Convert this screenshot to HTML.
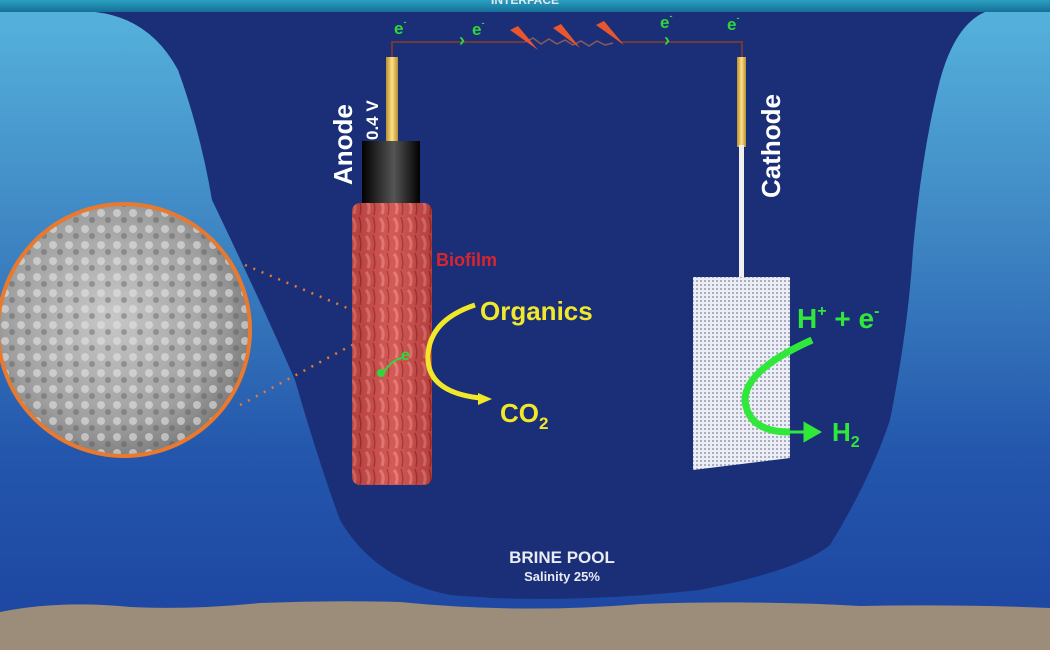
<!DOCTYPE html>
<html><head><meta charset="utf-8"><style>
html,body{margin:0;padding:0;width:1050px;height:650px;overflow:hidden;background:#1d4aa0}
svg{display:block}
text{font-family:"Liberation Sans",sans-serif;font-weight:bold}
</style></head><body>
<svg width="1050" height="650" viewBox="0 0 1050 650" xmlns="http://www.w3.org/2000/svg">
<defs>
<linearGradient id="sea" x1="0" y1="0" x2="0" y2="1">
<stop offset="0" stop-color="#56b4dd"/><stop offset="0.35" stop-color="#3f87c4"/><stop offset="0.7" stop-color="#2356ac"/><stop offset="1" stop-color="#1d44a0"/>
</linearGradient>
<linearGradient id="top" x1="0" y1="0" x2="0" y2="1"><stop offset="0" stop-color="#2aa0c0"/><stop offset="1" stop-color="#166f98"/></linearGradient>
<linearGradient id="gold" x1="0" y1="0" x2="1" y2="0"><stop offset="0" stop-color="#b8902a"/><stop offset="0.5" stop-color="#ffe08a"/><stop offset="1" stop-color="#b8902a"/></linearGradient>
<linearGradient id="blk" x1="0" y1="0" x2="1" y2="0"><stop offset="0" stop-color="#000"/><stop offset="0.55" stop-color="#555"/><stop offset="1" stop-color="#000"/></linearGradient>
<linearGradient id="red" x1="0" y1="0" x2="1" y2="0"><stop offset="0" stop-color="#9a2a2a"/><stop offset="0.5" stop-color="#e06a66"/><stop offset="1" stop-color="#9a2a2a"/></linearGradient>
<pattern id="mesh" width="4" height="4" patternUnits="userSpaceOnUse"><rect width="4" height="4" fill="#eceef4"/><rect width="2" height="2" fill="#a9aec4"/></pattern>
<pattern id="worm" width="14" height="18" patternUnits="userSpaceOnUse"><rect width="14" height="18" fill="#c9504c"/><path d="M2 2 Q7 8 4 16" stroke="#f08c86" stroke-width="3" fill="none"/><path d="M9 1 Q12 9 10 17" stroke="#8a2424" stroke-width="1.5" fill="none"/></pattern>
<radialGradient id="sem" cx="0.45" cy="0.45" r="0.6"><stop offset="0" stop-color="#c8c8c8"/><stop offset="0.7" stop-color="#a0a0a0"/><stop offset="1" stop-color="#767676"/></radialGradient>
<pattern id="semp" width="16" height="16" patternUnits="userSpaceOnUse"><circle cx="5" cy="5" r="4" fill="#e2e2e2" opacity="0.6"/><circle cx="12" cy="12" r="3" fill="#555" opacity="0.4"/></pattern>
</defs>
<rect width="1050" height="650" fill="url(#sea)"/>
<rect width="1050" height="12" fill="url(#top)"/>
<text x="525" y="4" font-size="12" fill="#dfeaf2" text-anchor="middle">INTERFACE</text>
<path d="M95 12 Q150 18 178 70 Q200 130 212 200 Q260 300 295 380 Q318 460 340 520 Q375 580 450 595 Q560 605 700 590 Q800 570 830 545 Q870 480 890 420 Q908 330 913 250 Q922 150 940 80 Q955 25 985 12 Z" fill="#1b2f78"/>
<path d="M0 612 Q60 600 130 607 Q190 610 260 603 Q330 600 400 602 Q520 614 640 604 Q760 600 860 606 Q960 604 1050 608 L1050 650 L0 650 Z" fill="#9c8c7a"/>
<!-- circuit -->
<path d="M392 58 V42 H525 M620 42 H742 V58" stroke="#6d3a3a" stroke-width="2" fill="none"/>
<path d="M525 42 l8 -4 l8 6 l8 -5 l8 5 l8 -4 l8 5 l8 -4 l8 5 l8 -5 l8 4 l8 -2" stroke="#8a5a5a" stroke-width="1.5" fill="none"/>
<g fill="#e8552e"><path d="M510 30 L518 26 L538 50 Z"/><path d="M553 28 L561 24 L580 48 Z"/><path d="M596 25 L604 21 L624 45 Z"/></g>
<g fill="#2fd83a" font-size="17"><text x="394" y="34">e<tspan font-size="9" dy="-9">-</tspan></text><text x="472" y="35">e<tspan font-size="9" dy="-9">-</tspan></text><text x="660" y="28">e<tspan font-size="9" dy="-9">-</tspan></text><text x="727" y="30">e<tspan font-size="9" dy="-9">-</tspan></text></g>
<g fill="#2fd83a" font-size="18"><text x="459" y="46">›</text><text x="664" y="46">›</text></g>
<!-- anode -->
<rect x="386" y="57" width="12" height="86" fill="url(#gold)"/>
<rect x="362" y="141" width="58" height="65" fill="url(#blk)"/>
<rect x="352" y="203" width="80" height="282" rx="8" fill="url(#worm)"/>
<rect x="352" y="203" width="80" height="282" rx="8" fill="url(#red)" opacity="0.45"/>
<text transform="translate(352,185) rotate(-90)" font-size="26" fill="#fff">Anode</text>
<text transform="translate(378,140) rotate(-90)" font-size="17" fill="#fff">0.4 V</text>
<text x="436" y="266" font-size="18" fill="#d8252e">Biofilm</text>
<!-- cathode -->
<rect x="737" y="57" width="9" height="90" fill="url(#gold)"/>
<rect x="739" y="145" width="5" height="132" fill="#f0f0f0"/>
<path d="M693 277 H790 V458 L693 470 Z" fill="url(#mesh)"/>
<text transform="translate(780,198) rotate(-90)" font-size="26" fill="#fff">Cathode</text>
<!-- reactions -->
<path d="M475 305 Q430 320 428 355 Q426 392 480 398" stroke="#f2e82a" stroke-width="5" fill="none"/>
<path d="M478 393 l14 6 l-14 6 z" fill="#f2e82a"/>
<text x="480" y="320" font-size="26" fill="#f2e82a">Organics</text>
<text x="500" y="422" font-size="26" fill="#f2e82a">CO<tspan font-size="17" dy="7">2</tspan></text>
<path d="M382 376 Q390 360 402 358" stroke="#2fd83a" stroke-width="2" fill="none"/><circle cx="381" cy="373" r="4" fill="#2fd83a"/>
<text x="401" y="360" font-size="16" fill="#2fd83a">e</text>
<path d="M812 340 Q745 370 745 400 Q748 432 790 432" stroke="#2fe83a" stroke-width="7" fill="none"/>
<path d="M790 432 h20 M805 424 l14 8 l-14 8 z" stroke="#2fe83a" stroke-width="3" fill="#2fe83a"/>
<text x="797" y="328" font-size="28" fill="#2fe83a" font-weight="normal">H<tspan font-size="16" dy="-12">+</tspan><tspan dy="12"> + e</tspan><tspan font-size="16" dy="-12">-</tspan></text>
<text x="832" y="441" font-size="26" fill="#2fe83a" font-weight="normal">H<tspan font-size="16" dy="6">2</tspan></text>
<!-- SEM circle -->
<circle cx="124" cy="330" r="126" fill="url(#sem)"/>
<circle cx="124" cy="330" r="126" fill="url(#semp)"/>
<circle cx="124" cy="330" r="126" fill="none" stroke="#e8792e" stroke-width="4"/>
<path d="M245 265 L352 310 M240 405 L352 345" stroke="#e8792e" stroke-width="2.5" stroke-dasharray="2 7" fill="none"/>
<text x="562" y="563" font-size="17" fill="#e8ecf4" text-anchor="middle">BRINE POOL</text>
<text x="562" y="581" font-size="13" fill="#e8ecf4" text-anchor="middle">Salinity  25%</text>
</svg>
</body></html>
